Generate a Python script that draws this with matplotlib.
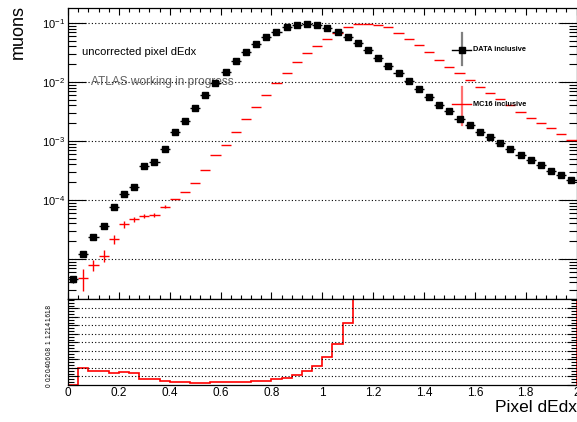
import numpy as np
import matplotlib
matplotlib.use("Agg")
import matplotlib.pyplot as plt
from matplotlib.ticker import (FixedLocator, MultipleLocator, NullFormatter,
                               FuncFormatter, LogLocator, AutoMinorLocator)

plt.rcParams['font.family'] = ['Liberation Sans', 'DejaVu Sans']
plt.rcParams['mathtext.fontset'] = 'custom'
plt.rcParams['mathtext.rm'] = 'Liberation Sans'
plt.rcParams['mathtext.it'] = 'Liberation Sans:italic'
plt.rcParams['mathtext.bf'] = 'Liberation Sans:bold'

# ---- histogram binning ----
x_min, x_max, n_bins = 0.0, 2.0, 50

# ---- normalised muon counts per bin ----
data_vals = [4.53e-6, 1.23e-5, 2.36e-5, 3.58e-5, 7.7e-5, 1.28e-4, 1.66e-4, 3.82e-4, 4.35e-4, 7.3e-4,
             1.44e-3, 2.18e-3, 3.58e-3, 6.0e-3, 9.75e-3, 1.46e-2, 2.24e-2, 3.19e-2, 4.47e-2, 5.72e-2,
             7.13e-2, 8.55e-2, 9.14e-2, 9.49e-2, 9.14e-2, 8.23e-2, 7.04e-2, 5.79e-2, 4.64e-2, 3.44e-2,
             2.58e-2, 1.87e-2, 1.40e-2, 1.03e-2, 7.5e-3, 5.64e-3, 4.03e-3, 3.22e-3, 2.39e-3, 1.85e-3,
             1.44e-3, 1.17e-3, 9.36e-4, 7.31e-4, 5.86e-4, 4.71e-4, 3.92e-4, 3.14e-4, 2.65e-4, 2.18e-4]

mc_vals = [0.0, 4.82e-6, 7.9e-6, 1.14e-5, 2.16e-5, 3.87e-5, 4.77e-5, 5.36e-5, 5.64e-5, 7.7e-5,
           1.03e-4, 1.37e-4, 1.97e-4, 3.27e-4, 5.86e-4, 8.67e-4, 1.42e-3, 2.36e-3, 3.77e-3, 6.03e-3,
           9.75e-3, 1.44e-2, 2.15e-2, 3.06e-2, 4.13e-2, 5.42e-2, 6.86e-2, 8.45e-2, 9.74e-2, 9.74e-2,
           9.37e-2, 8.45e-2, 6.86e-2, 5.42e-2, 4.24e-2, 3.19e-2, 2.36e-2, 1.79e-2, 1.40e-2, 1.07e-2,
           8.33e-3, 6.52e-3, 5.09e-3, 4.07e-3, 3.14e-3, 2.48e-3, 2.00e-3, 1.66e-3, 1.33e-3, 1.03e-3]

# statistical uncertainties in the low-count bins (the rest are negligible)
data_err_low = [6e-7, 1.2e-6, 1.8e-6, 2.4e-6, 3.5e-6, 5e-6, 6e-6, 9e-6, 1e-5, 1.3e-5]
mc_err_low = [0.0, 2.0e-6, 1.75e-6, 2.6e-6, 3.9e-6, 5.0e-6, 4.5e-6, 4.0e-6, 4.0e-6, 5.0e-6]

ratio_ticks = [0, 0.2, 0.4, 0.6, 0.8, 1.0, 1.2, 1.4, 1.6, 1.8]
x_ticks = [0, 0.2, 0.4, 0.6, 0.8, 1.0, 1.2, 1.4, 1.6, 1.8, 2.0]

edges = np.linspace(x_min, x_max, n_bins + 1)
centers = 0.5 * (edges[:-1] + edges[1:])
half = 0.5 * (edges[1] - edges[0])
data = np.array(data_vals)
mc = np.array(mc_vals)
data_err = np.zeros(n_bins)
data_err[:len(data_err_low)] = data_err_low
mc_err = np.zeros(n_bins)
mc_err[:len(mc_err_low)] = mc_err_low
ratio = np.where((mc > 0) & (data > 0), mc / np.where(data > 0, data, 1), 0.0)

W, H = 577, 422
fig = plt.figure(figsize=(W / 100, H / 100), dpi=100)
ax1 = fig.add_axes([68 / W, 1 - 299 / H, 508.5 / W, 291 / H])
ax2 = fig.add_axes([68 / W, 1 - 385 / H, 508.5 / W, 86 / H])

grid_style = dict(color='black', lw=0.8, ls=(0, (1, 2)))

# ---- upper pad ----
ax1.set_yscale('log')
mm = mc > 0
ax1.errorbar(centers[mm], mc[mm], xerr=half, yerr=mc_err[mm], fmt='none',
             ecolor='red', elinewidth=1.0, capsize=0, zorder=3)
md = data > 0
ax1.errorbar(centers[md], data[md], xerr=half, yerr=data_err[md], fmt='s', ms=3.8,
             color='black', mec='black', elinewidth=1.0, capsize=0, zorder=4)

ax1.set_xlim(x_min, x_max)
ax1.set_ylim(2.1e-6, 0.1795)
ax1.yaxis.set_major_locator(FixedLocator([1e-5, 1e-4, 1e-3, 1e-2, 1e-1]))
ax1.yaxis.set_major_formatter(FuncFormatter(
    lambda v, p: '' if v < 5e-5 else r'$10^{%d}$' % int(round(np.log10(v)))))
ax1.yaxis.set_minor_locator(LogLocator(base=10, subs=np.arange(2, 10), numticks=20))
ax1.yaxis.set_minor_formatter(NullFormatter())
ax1.xaxis.set_major_locator(MultipleLocator(0.2))
ax1.xaxis.set_minor_locator(MultipleLocator(0.04))
ax1.tick_params(axis='x', which='both', direction='in', top=True, bottom=True,
                labelbottom=False, width=0.8)
ax1.tick_params(axis='x', which='major', length=5)
ax1.tick_params(axis='x', which='minor', length=2.8)
ax1.tick_params(axis='y', which='both', direction='in', left=True, right=True, width=0.8,
                labelsize=8, pad=2)
ax1.tick_params(axis='y', which='major', length=13)
ax1.tick_params(axis='y', which='minor', length=6)
ax1.yaxis.grid(True, which='major', **grid_style)

ax1.text(0.028, 0.850, 'uncorrected pixel dEdx', transform=ax1.transAxes,
         fontsize=8, ha='left', va='center')
ax1.text(0.045, 0.747, 'ATLAS working in progress', transform=ax1.transAxes,
         fontsize=8.6, ha='left', va='center', color='#606060')

# legend entries
lx0, lx1, lxc = 0.756, 0.792, 0.774
ax1.plot([lxc, lxc], [0.804, 0.914], transform=ax1.transAxes, color='#808080', lw=1.6)
ax1.plot([lx0, lx1], [0.856, 0.856], transform=ax1.transAxes, color='black', lw=1.0)
ax1.plot([lxc], [0.856], 's', ms=3.8, color='black', transform=ax1.transAxes)
ax1.text(0.797, 0.856, 'DATA inclusive', transform=ax1.transAxes, fontsize=5.3,
         fontweight='bold', ha='left', va='center')
ax1.plot([lxc, lxc], [0.598, 0.730], transform=ax1.transAxes, color='#ff7070', lw=1.6)
ax1.plot([lx0, lx1], [0.670, 0.670], transform=ax1.transAxes, color='red', lw=1.0)
ax1.text(0.797, 0.670, 'MC16 inclusive', transform=ax1.transAxes, fontsize=5.3,
         fontweight='bold', ha='left', va='center')

# ---- ratio pad ----
ax2.stairs(ratio, edges, color='red', lw=1.2, baseline=0)
ax2.set_xlim(x_min, x_max)
ax2.set_ylim(0, 2.02)
ax2.yaxis.set_major_locator(FixedLocator(ratio_ticks))
ax2.yaxis.set_major_formatter(FuncFormatter(lambda v, p: '%g' % v))
ax2.yaxis.set_minor_locator(AutoMinorLocator(3))
for t in ratio_ticks[1:]:
    ax2.axhline(t, **grid_style)
ax2.tick_params(axis='y', which='both', direction='in', left=True, right=True, width=0.8,
                labelsize=4.7, pad=11)
ax2.tick_params(axis='y', which='major', length=7)
ax2.tick_params(axis='y', which='minor', length=4)
for lab in ax2.get_yticklabels():
    lab.set_rotation(90)
    lab.set_va('center')
    lab.set_family(['Liberation Sans Narrow', 'Liberation Sans', 'DejaVu Sans'])
ax2.xaxis.set_major_locator(FixedLocator(x_ticks))
ax2.xaxis.set_major_formatter(FuncFormatter(lambda v, p: '%g' % v))
ax2.tick_params(axis='x', which='both', length=0, labelsize=8.5, pad=1.5)

for ax in (ax1, ax2):
    for s in ax.spines.values():
        s.set_linewidth(0.9)

fig.text(1.0, 1 - 408 / H, 'Pixel dEdx', fontsize=12.5, ha='right', va='center')
fig.text(18 / W, 1 - 5 / H, 'muons', fontsize=13, rotation=90, ha='center', va='top')

fig.savefig('out.png', dpi=100)
